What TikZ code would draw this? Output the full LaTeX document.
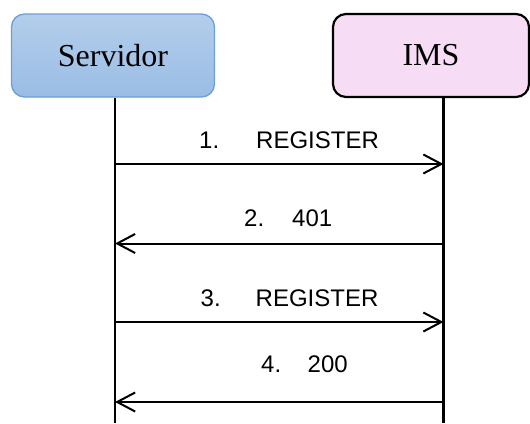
\documentclass[tikz,border=0pt]{standalone}
\usepackage{fontspec}
\setmainfont{Liberation Serif}
\newfontfamily\msgfont{Liberation Sans}
\usetikzlibrary{arrows.meta}

\definecolor{srvtop}{HTML}{B3CEEB}
\definecolor{srvbot}{HTML}{9ABCE4}
\definecolor{srvline}{HTML}{6C9FD8}
\definecolor{imsfill}{HTML}{F6DCF5}

\tikzset{
  actor/.style={rounded corners=13pt, minimum height=83pt, inner sep=0pt,
    font=\fontsize{32}{36}\selectfont},
  lifeline/.style={line width=2.2pt, black},
  msg/.style={line width=2pt, black,
    -{Straight Barb[length=18pt, width=19pt, line width=2pt]}},
  msglabel/.style={anchor=base west, inner sep=0pt,
    font=\msgfont\fontsize{24}{28}\selectfont}
}

\begin{document}
\begin{tikzpicture}[x=1pt, y=-1pt]
  \useasboundingbox (0,0) rectangle (530,423);

  % participants
  \node[actor, minimum width=203pt, draw=srvline, line width=1.3pt,
        top color=srvtop, bottom color=srvbot] (srv) at (113,55.5) {Servidor};
  \node[actor, minimum width=196pt, draw=black, line width=2.2pt,
        fill=imsfill] (ims) at (431,55.5) {IMS};

  % lifeline ends
  \coordinate (sb) at (115,423);
  \coordinate (ib) at (443.5,423);
  \draw[lifeline] (srv.south -| sb) -- (sb);
  \draw[lifeline] (ims.south -| ib) -- (ib);

  % message anchor points on the lifelines
  \coordinate (s1) at (115,164);   \coordinate (i1) at (443.5,164);
  \coordinate (s2) at (115,243.5); \coordinate (i2) at (443.5,243.5);
  \coordinate (s3) at (115,322);   \coordinate (i3) at (443.5,322);
  \coordinate (s4) at (115,402);   \coordinate (i4) at (443.5,402);

  % messages
  \draw[msg] (s1) -- (i1);
  \draw[msg] (i2) -- (s2);
  \draw[msg] (s3) -- (i3);
  \draw[msg] (i4) -- (s4);

  % message labels
  \node[msglabel] (n1) at (199,148) {1.};
  \node[msglabel] (t1) at (256,148) {REGISTER};
  \node[msglabel] (n2) at (244,226) {2.};
  \node[msglabel] (t2) at (292,226) {401};
  \node[msglabel] (n3) at (200.5,306) {3.};
  \node[msglabel] (t3) at (255.5,306) {REGISTER};
  \node[msglabel] (n4) at (261,372) {4.};
  \node[msglabel] (t4) at (307.5,372) {200};
\end{tikzpicture}
\end{document}
